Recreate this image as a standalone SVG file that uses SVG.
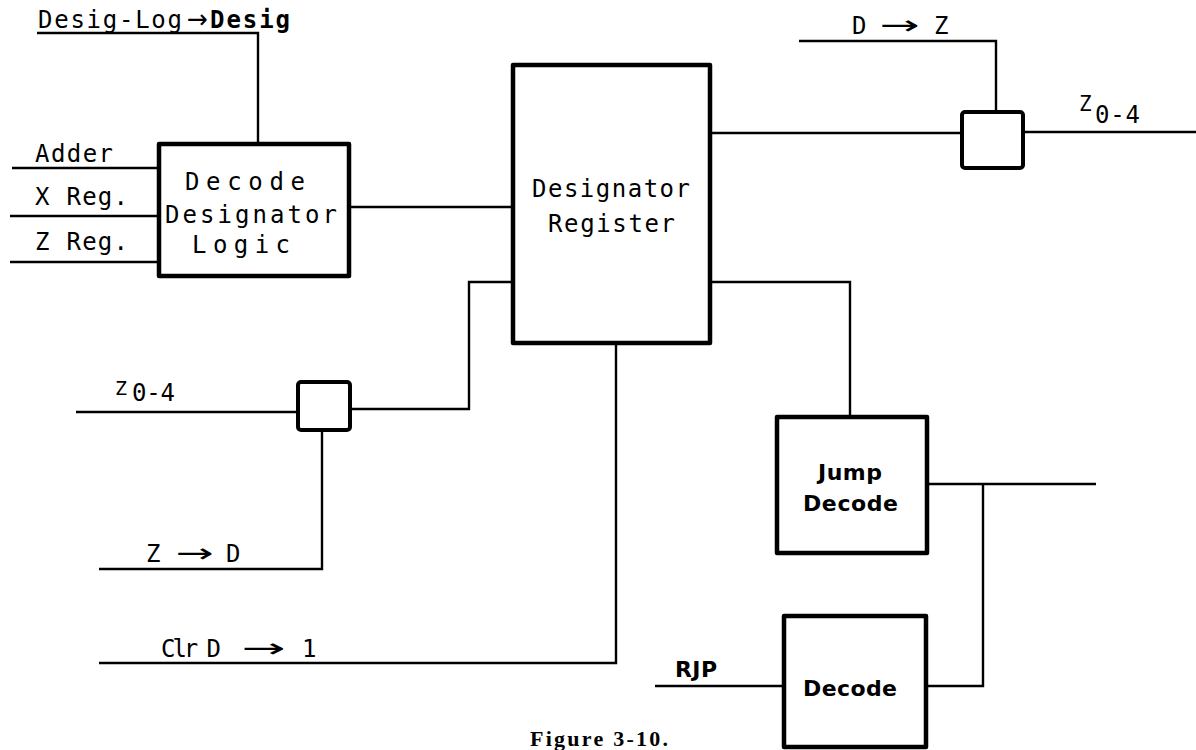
<svg xmlns="http://www.w3.org/2000/svg" width="1196" height="750" viewBox="0 0 1196 750">
<style>
.box{fill:#fff;stroke:#000;stroke-width:4.5;stroke-linejoin:round}
.gate{fill:#fff;stroke:#000;stroke-width:4;stroke-linejoin:round}
.wire{fill:none;stroke:#000;stroke-width:2.4;stroke-linejoin:miter}
.m{font-family:"DejaVu Sans Mono","Liberation Mono",monospace;font-size:24px;fill:#000}
.ar{font-family:"DejaVu Sans",sans-serif;font-size:26px}
.b{font-family:"DejaVu Sans","Liberation Sans",sans-serif;font-size:22px;font-weight:bold;fill:#000}
.cap{font-family:"Liberation Serif","DejaVu Serif",serif;font-size:22px;font-weight:bold;fill:#000}
</style>
<g id="connectors">
<path class="wire" d="M37 33 H258 V144"/>
<path class="wire" d="M12 168 H159"/>
<path class="wire" d="M10 216 H159"/>
<path class="wire" d="M10 262 H159"/>
<path class="wire" d="M349 207 H513"/>
<path class="wire" d="M710 133 H962"/>
<path class="wire" d="M799 41 H996 V112"/>
<path class="wire" d="M1023 132 H1196"/>
<path class="wire" d="M76 412 H298"/>
<path class="wire" d="M350 409 H469 V282 H513"/>
<path class="wire" d="M99 569 H322 V430"/>
<path class="wire" d="M99 663 H616 V343"/>
<path class="wire" d="M710 282 H850 V417"/>
<path class="wire" d="M927 484 H1096"/>
<path class="wire" d="M926 686 H983 V484"/>
<path class="wire" d="M655 686 H784"/>
</g>
<g id="labels">
<text class="m" y="28"><tspan x="38" textLength="144" lengthAdjust="spacing">Desig-Log</tspan><tspan class="ar" x="187" textLength="21" lengthAdjust="spacingAndGlyphs">→</tspan><tspan x="210" font-weight="bold" textLength="80" lengthAdjust="spacing">Desig</tspan></text>
<text class="m" x="35" y="162" textLength="78" lengthAdjust="spacing">Adder</text>
<text class="m" x="35" y="205" textLength="93" lengthAdjust="spacing">X Reg.</text>
<text class="m" x="35" y="250" textLength="93" lengthAdjust="spacing">Z Reg.</text>
<text class="m" y="34"><tspan x="852">D</tspan><tspan class="ar" x="880" textLength="40" lengthAdjust="spacingAndGlyphs">→</tspan><tspan x="934">Z</tspan></text>
<text class="m"><tspan x="1079" y="111" font-size="21">Z</tspan><tspan x="1095" y="123" textLength="45" lengthAdjust="spacing">0-4</tspan></text>
<text class="m"><tspan x="115" y="395" font-size="20">Z</tspan><tspan x="132" y="401" textLength="43" lengthAdjust="spacing">0-4</tspan></text>
<text class="m" y="562"><tspan x="146">Z</tspan><tspan class="ar" x="176" textLength="38" lengthAdjust="spacingAndGlyphs">→</tspan><tspan x="226">D</tspan></text>
<text class="m" y="657"><tspan x="161" textLength="60" lengthAdjust="spacing">Clr D</tspan><tspan class="ar" x="242" textLength="44" lengthAdjust="spacingAndGlyphs">→</tspan><tspan x="302">1</tspan></text>
<text class="b" x="675" y="677" textLength="42" lengthAdjust="spacing">RJP</text>
<text class="cap" x="530" y="746" textLength="138" lengthAdjust="spacing">Figure 3-10.</text>
</g>
<g id="decode-designator-logic">
<rect class="box" x="159" y="144" width="190" height="132"/>
<text class="m" x="185" y="190" textLength="120" lengthAdjust="spacing">Decode</text>
<text class="m" x="165" y="223" textLength="172" lengthAdjust="spacing">Designator</text>
<text class="m" x="192" y="253" textLength="98" lengthAdjust="spacing">Logic</text>
</g>
<g id="designator-register">
<rect class="box" x="513" y="65" width="197" height="278"/>
<text class="m" x="532" y="197" textLength="158" lengthAdjust="spacing">Designator</text>
<text class="m" x="548" y="232" textLength="127" lengthAdjust="spacing">Register</text>
</g>
<g id="gate-top">
<rect class="gate" x="962" y="112" width="61" height="56" rx="3"/>
</g>
<g id="gate-left">
<rect class="gate" x="298" y="382" width="52" height="48" rx="3"/>
</g>
<g id="jump-decode">
<rect class="box" x="777" y="417" width="150" height="136"/>
<text class="b" x="818" y="480" textLength="64" lengthAdjust="spacing">Jump</text>
<text class="b" x="803" y="511" textLength="95" lengthAdjust="spacing">Decode</text>
</g>
<g id="decode">
<rect class="box" x="784" y="616" width="142" height="131"/>
<text class="b" x="803" y="696" textLength="94" lengthAdjust="spacing">Decode</text>
</g>
</svg>
